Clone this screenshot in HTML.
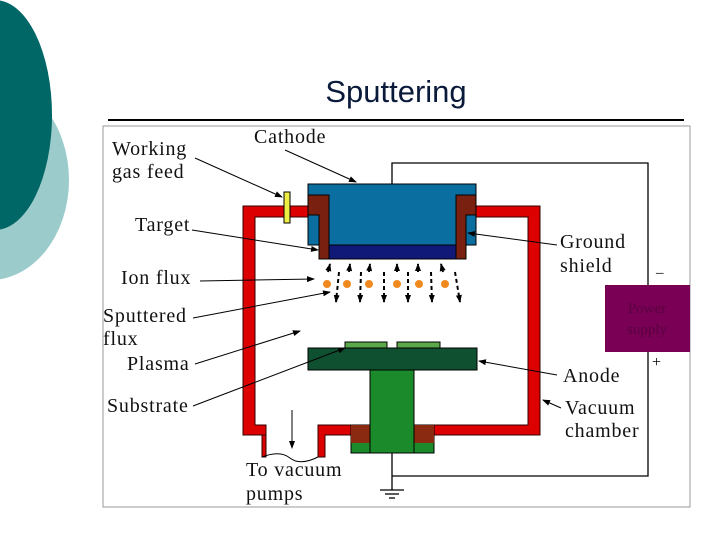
<!DOCTYPE html>
<html><head><style>
html,body{margin:0;padding:0;background:#fff;width:720px;height:540px;overflow:hidden}
</style></head><body>
<svg width="720" height="540" xmlns="http://www.w3.org/2000/svg" font-family="Liberation Serif, serif">
<defs>
<marker id="a" markerWidth="8" markerHeight="6" refX="7" refY="3" orient="auto" markerUnits="userSpaceOnUse"><path d="M0,0 L8,3 L0,6 Z" fill="#000"/></marker>
</defs>
<ellipse cx="-10" cy="180" rx="79" ry="100" fill="#9ccbcb"/>
<ellipse cx="-5" cy="115" rx="57" ry="115" fill="#006666"/>
<text x="396" y="102" font-family="Liberation Sans, sans-serif" font-size="31" text-anchor="middle" fill="#0a1a3a">Sputtering</text>
<line x1="108" y1="120" x2="684" y2="120" stroke="#000" stroke-width="2"/>
<rect x="103" y="126" width="587" height="381" fill="#fff" stroke="#999" stroke-width="1"/>
<polyline points="392,184 392,163 648,163 648,285" fill="none" stroke="#000" stroke-width="1.3"/>
<polyline points="648,352 648,476 392,476" fill="none" stroke="#000" stroke-width="1.3"/>
<rect x="605" y="285" width="85" height="67" fill="#7a0055"/>
<text x="647" y="313" font-size="15" text-anchor="middle" fill="#5a0040">Power</text>
<text x="647" y="334" font-size="15" text-anchor="middle" fill="#5a0040">supply</text>
<text x="656" y="277" font-size="15" fill="#000">–</text>
<text x="652" y="367" font-size="16" fill="#000">+</text>
<path d="M243,206 H320 V217 H255 V425 H266 V435 H243 Z" fill="#d00" stroke="#300" stroke-width="1"/>
<path d="M465,206 H540 V435 H425 V425 H528 V217 H465 Z" fill="#d00" stroke="#300" stroke-width="1"/>
<path d="M318,425 H360 V435 H325 V457 H318 Z" fill="#d00" stroke="#300" stroke-width="1"/>
<path d="M262,435 H266 V457 H262 Z" fill="#d00" stroke="#300" stroke-width="1"/>
<path d="M262,457 Q280,450 290,458 T318,457" fill="none" stroke="#000" stroke-width="1"/>
<line x1="292" y1="410" x2="292" y2="448" stroke="#000" marker-end="url(#a)"/>
<rect x="284" y="192" width="6" height="31" fill="#ee4" stroke="#000" stroke-width="1"/>
<rect x="308" y="184" width="168" height="61" fill="#0a6ea0" stroke="#000" stroke-width="1"/>
<rect x="329" y="245" width="127" height="14" fill="#101878" stroke="#000" stroke-width="1"/>
<path d="M308,195 H329 V259 H319 V215 H308 Z" fill="#7a2010" stroke="#000" stroke-width="1"/>
<path d="M476,195 H456 V259 H466 V215 H476 Z" fill="#7a2010" stroke="#000" stroke-width="1"/>
<g stroke="#000" stroke-width="2" fill="none" stroke-dasharray="4,3">
<line x1="328" y1="272" x2="330" y2="264" marker-end="url(#a)"/>
<line x1="339" y1="272" x2="336" y2="302" marker-end="url(#a)"/>
<line x1="349" y1="272" x2="350" y2="264" marker-end="url(#a)"/>
<line x1="361" y1="272" x2="360" y2="302" marker-end="url(#a)"/>
<line x1="369" y1="272" x2="370" y2="264" marker-end="url(#a)"/>
<line x1="384" y1="272" x2="384" y2="302" marker-end="url(#a)"/>
<line x1="397" y1="272" x2="397" y2="264" marker-end="url(#a)"/>
<line x1="408" y1="272" x2="408" y2="302" marker-end="url(#a)"/>
<line x1="418" y1="272" x2="418" y2="264" marker-end="url(#a)"/>
<line x1="431" y1="272" x2="432" y2="302" marker-end="url(#a)"/>
<line x1="443" y1="272" x2="441" y2="264" marker-end="url(#a)"/>
<line x1="455" y1="272" x2="460" y2="302" marker-end="url(#a)"/>
</g>
<g fill="#f08a20"><circle cx="327" cy="284" r="4"/><circle cx="347" cy="284" r="4"/><circle cx="369" cy="284" r="4"/><circle cx="397" cy="284" r="4"/><circle cx="419" cy="284" r="4"/><circle cx="445" cy="284" r="4"/></g>
<rect x="345" y="342" width="42" height="6" fill="#5aa84a" stroke="#000" stroke-width="1"/>
<rect x="397" y="342" width="43" height="6" fill="#5aa84a" stroke="#000" stroke-width="1"/>
<rect x="308" y="348" width="169" height="22" fill="#0f5030" stroke="#000" stroke-width="1"/>
<rect x="351" y="425" width="83" height="28" fill="#1a8a2a" stroke="#000" stroke-width="1"/>
<rect x="351" y="425" width="19" height="18" fill="#8a2a10"/>
<rect x="414" y="425" width="20" height="18" fill="#8a2a10"/>
<rect x="370" y="370" width="44" height="83" fill="#1a8a2a" stroke="#000" stroke-width="1"/>
<rect x="371" y="440" width="42" height="12" fill="#1a8a2a"/>
<line x1="392" y1="453" x2="392" y2="490" stroke="#000" stroke-width="1.3"/>
<line x1="380" y1="490" x2="404" y2="490" stroke="#000" stroke-width="1.3"/>
<line x1="385" y1="494" x2="399" y2="494" stroke="#000" stroke-width="1.3"/>
<line x1="389" y1="498" x2="395" y2="498" stroke="#000" stroke-width="1.3"/>
<g font-size="20" fill="#111" letter-spacing="0.8">
<text x="112" y="155">Working</text>
<text x="112" y="178">gas  feed</text>
<text x="254" y="143">Cathode</text>
<text x="135" y="231">Target</text>
<text x="121" y="284">Ion  flux</text>
<text x="103" y="322">Sputtered</text>
<text x="103" y="345">flux</text>
<text x="127" y="370">Plasma</text>
<text x="107" y="412">Substrate</text>
<text x="560" y="248">Ground</text>
<text x="560" y="272">shield</text>
<text x="563" y="382">Anode</text>
<text x="565" y="414">Vacuum</text>
<text x="565" y="437">chamber</text>
<text x="246" y="476">To  vacuum</text>
<text x="246" y="500">pumps</text>
</g>
<g stroke="#000" stroke-width="1" fill="none">
<line x1="195" y1="158" x2="282" y2="197" marker-end="url(#a)"/>
<line x1="285" y1="150" x2="356" y2="182" marker-end="url(#a)"/>
<line x1="192" y1="230" x2="318" y2="250" marker-end="url(#a)"/>
<line x1="200" y1="281" x2="314" y2="279" marker-end="url(#a)"/>
<line x1="193" y1="318" x2="330" y2="292" marker-end="url(#a)"/>
<line x1="195" y1="364" x2="300" y2="331" marker-end="url(#a)"/>
<line x1="193" y1="406" x2="345" y2="348" marker-end="url(#a)"/>
<line x1="557" y1="245" x2="468" y2="233" marker-end="url(#a)"/>
<line x1="557" y1="375" x2="479" y2="361" marker-end="url(#a)"/>
<line x1="561" y1="408" x2="543" y2="400" marker-end="url(#a)"/>
</g>
</svg>
</body></html>
